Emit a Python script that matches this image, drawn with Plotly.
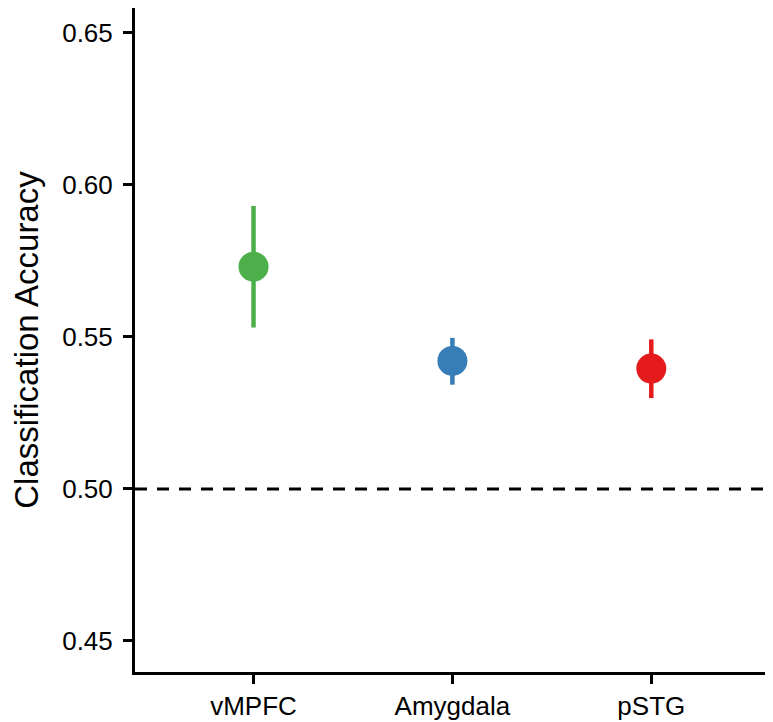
import plotly.graph_objects as go

regions = ["vMPFC", "Amygdala", "pSTG"]
accuracy = [0.5731, 0.5421, 0.5396]
err_upper = [0.5931, 0.5497, 0.5492]
err_lower = [0.5531, 0.5343, 0.5299]
colors = ["#4daf4a", "#377eb8", "#e41a1c"]
chance = 0.5
y_ticks = [0.45, 0.50, 0.55, 0.60, 0.65]
y_tick_labels = ["0.45", "0.50", "0.55", "0.60", "0.65"]

FONT = "Arial, Liberation Sans, sans-serif"

fig = go.Figure()
for name, acc, hi, lo, col in zip(regions, accuracy, err_upper, err_lower, colors):
    fig.add_trace(go.Scatter(
        x=[name], y=[acc], mode="markers",
        marker=dict(size=30, color=col, line=dict(width=0)),
        error_y=dict(type="data", symmetric=False,
                     array=[hi - acc], arrayminus=[acc - lo],
                     color=col, thickness=4.5, width=0),
        showlegend=False, name=name,
    ))

fig.add_shape(type="line", xref="paper", yref="y", x0=0, x1=1, y0=chance, y1=chance,
              line=dict(color="black", width=3, dash="12px,10px"), layer="below")

fig.update_layout(
    width=765, height=714,
    margin=dict(l=127, r=0, t=0, b=50),
    paper_bgcolor="white", plot_bgcolor="white",
    font=dict(family=FONT, size=26, color="black"),
    xaxis=dict(type="category", categoryorder="array", categoryarray=regions,
               range=[-0.596, 2.612], showline=True, linecolor="black", linewidth=3,
               ticks="outside", ticklen=9, tickwidth=3, tickcolor="black",
               showgrid=False, zeroline=False, tickfont=dict(size=26),
               ticklabelstandoff=0),
    yaxis=dict(range=[0.4398, 0.6582], tickvals=y_ticks, ticktext=y_tick_labels,
               showline=True, linecolor="black", linewidth=3,
               ticks="outside", ticklen=9, tickwidth=3, tickcolor="black",
               showgrid=False, zeroline=False, tickfont=dict(size=26),
               ticklabelstandoff=5,
               title=dict(text="Classification Accuracy", font=dict(size=33), standoff=22)),
)

fig.write_html("out.html")
